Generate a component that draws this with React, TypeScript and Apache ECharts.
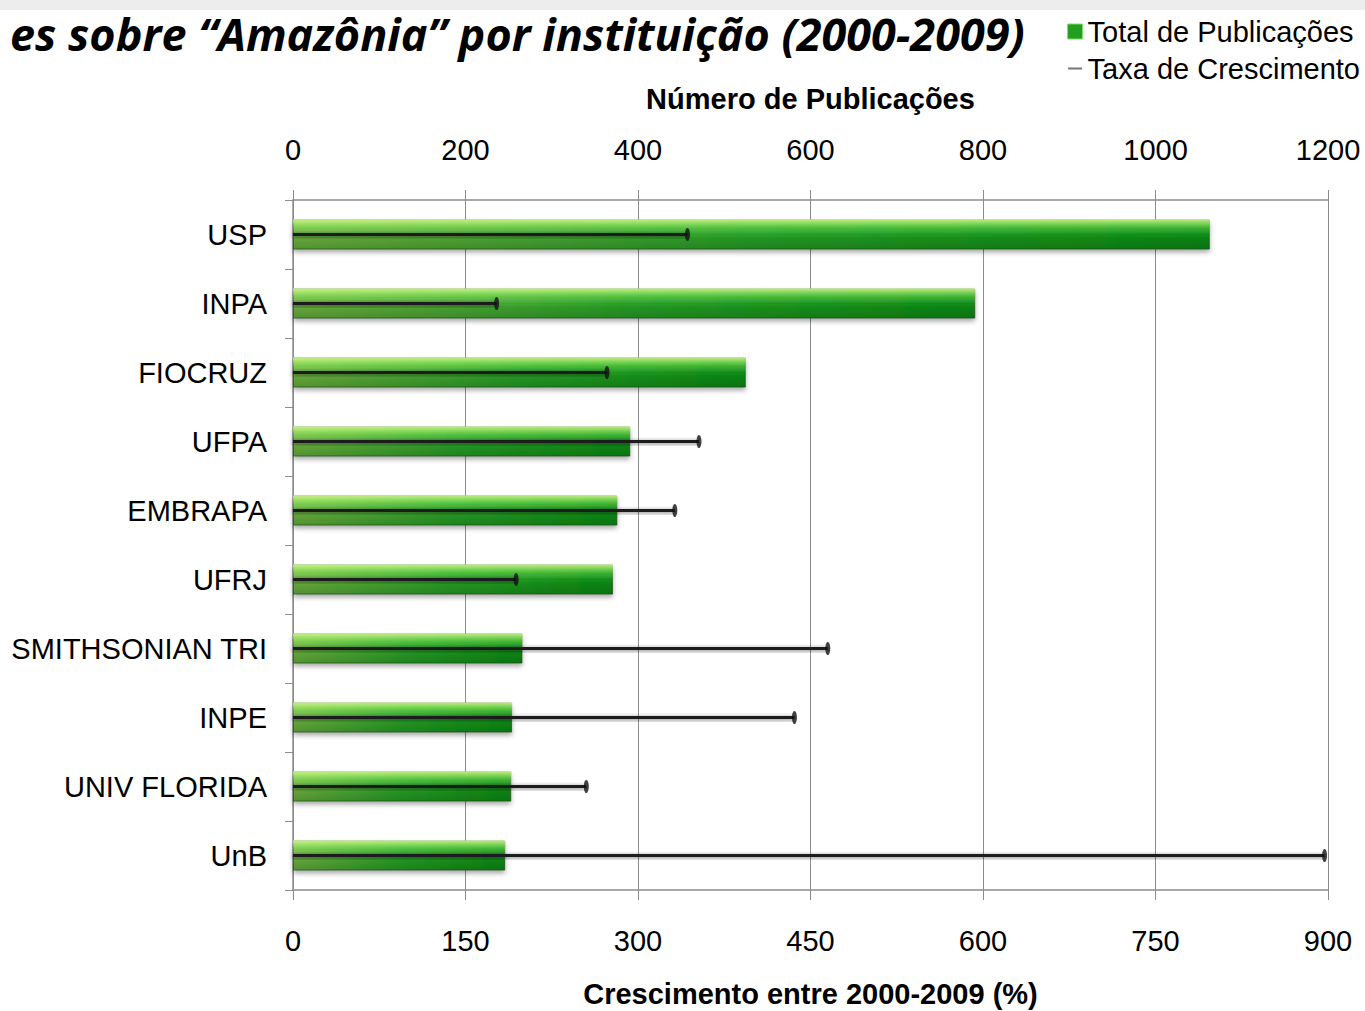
import React, { useEffect, useRef } from "react";
import * as echarts from "echarts";

const institutions = ["USP", "INPA", "FIOCRUZ", "UFPA", "EMBRAPA", "UFRJ", "SMITHSONIAN TRI", "INPE", "UNIV FLORIDA", "UnB"];
const totalPublications = [1063, 791, 525, 391, 376, 371, 266, 254, 253, 246];
const growthRate = [343, 177, 273, 353, 332, 194, 465, 436, 255, 897];
const titleText = "es sobre “Amazônia” por instituição (2000-2009)";
const topAxisName = "Número de Publicações";
const bottomAxisName = "Crescimento entre 2000-2009 (%)";
const legendNames = ["Total de Publicações", "Taxa de Crescimento"];

const FONT = '"Liberation Sans", Arial, sans-serif';

export default function App() {
  const ref = useRef<HTMLDivElement>(null);
  useEffect(() => {
    if (!ref.current) return;
    const chart = echarts.init(ref.current, null, { renderer: "svg" });
    const gridColor = "#8c8c8c";
    chart.setOption({
      animation: false,
      backgroundColor: "#ffffff",
      graphic: [
        { type: "rect", shape: { x: 0, y: 0, width: 1365, height: 10 }, style: { fill: "#ededed" }, z: 0 },
        {
          type: "text",
          left: 10,
          top: 11,
          z: 10,
          style: {
            text: titleText,
            font: 'italic bold 45px "Open Sans", sans-serif',
            fill: "#000",
          },
        },
      ],
      legend: {
        orient: "vertical",
        right: 0,
        top: 12,
        itemGap: 8,
        itemWidth: 15,
        itemHeight: 15,
        textStyle: { fontFamily: FONT, fontSize: 29, color: "#000" },
        data: [
          { name: legendNames[0], icon: "rect", itemStyle: { color: "#1f9e1f", borderColor: "#7fdc6f", borderWidth: 1 } },
          { name: legendNames[1], icon: "path://M0,0L0.01,0L0,0Z M0,6.5H14V8.5H0Z M0,15L0.01,15L0,15Z", itemStyle: { color: "#777" } },
        ],
      },
      grid: { left: 293, right: 37, top: 200, bottom: 121, containLabel: false, outerBoundsMode: "none" },
      xAxis: [
        {
          type: "value",
          position: "top",
          min: 0,
          max: 1200,
          interval: 200,
          name: topAxisName,
          nameLocation: "middle",
          nameGap: 87,
          nameTextStyle: { fontFamily: FONT, fontSize: 29, fontWeight: "bold", color: "#000" },
          axisLabel: { fontFamily: FONT, fontSize: 29, color: "#000", margin: 36, formatter: (v: number) => String(v) },
          axisLine: { show: true, lineStyle: { color: gridColor, width: 1.5 } },
          axisTick: { show: true, length: 10, lineStyle: { color: gridColor } },
          splitLine: { show: true, lineStyle: { color: gridColor, width: 1 } },
        },
        {
          type: "value",
          position: "bottom",
          min: 0,
          max: 900,
          interval: 150,
          name: bottomAxisName,
          nameLocation: "middle",
          nameGap: 89,
          nameTextStyle: { fontFamily: FONT, fontSize: 29, fontWeight: "bold", color: "#000" },
          axisLabel: { fontFamily: FONT, fontSize: 29, color: "#000", margin: 36, formatter: (v: number) => String(v) },
          axisLine: { show: true, lineStyle: { color: gridColor, width: 1.5 } },
          axisTick: { show: true, length: 10, lineStyle: { color: gridColor } },
          splitLine: { show: false },
        },
      ],
      yAxis: [
        {
          type: "category",
          data: institutions,
          inverse: true,
          axisLabel: { fontFamily: FONT, fontSize: 29, color: "#000", margin: 26 },
          axisLine: { show: true, lineStyle: { color: gridColor, width: 1.5 } },
          axisTick: { show: true, length: 8, lineStyle: { color: gridColor } },
        },
        {
          type: "category",
          data: institutions,
          inverse: true,
          show: false,
        },
      ],
      series: [
        {
          name: legendNames[0],
          type: "bar",
          xAxisIndex: 0,
          yAxisIndex: 0,
          barWidth: 30,
          barGap: "-100%",
          data: totalPublications,
          itemStyle: {
            color: new echarts.graphic.LinearGradient(0, 0, 1, 0, [
              { offset: 0, color: "#6cb23f" },
              { offset: 0.5, color: "#26a026" },
              { offset: 1, color: "#0c8c12" },
            ]),
            borderColor: "rgba(30,80,20,0.6)",
            borderWidth: 1,
            shadowColor: "rgba(0,0,0,0.35)",
            shadowBlur: 5,
            shadowOffsetY: 3,
          },
          z: 2,
        },
        {
          name: "gloss",
          type: "bar",
          xAxisIndex: 0,
          yAxisIndex: 0,
          barWidth: 30,
          barGap: "-100%",
          data: totalPublications,
          silent: true,
          itemStyle: {
            color: new echarts.graphic.LinearGradient(0, 0, 0, 1, [
              { offset: 0, color: "rgba(225,255,150,0.85)" },
              { offset: 0.3, color: "rgba(160,255,110,0.3)" },
              { offset: 0.5, color: "rgba(255,255,255,0)" },
              { offset: 0.6, color: "rgba(0,0,0,0.06)" },
              { offset: 1, color: "rgba(0,30,0,0.22)" },
            ]),
          },
          z: 3,
        },
        {
          name: legendNames[1],
          type: "bar",
          xAxisIndex: 1,
          yAxisIndex: 1,
          barWidth: 3,
          data: growthRate,
          itemStyle: {
            color: "#1e1e1e",
            shadowColor: "rgba(0,0,0,0.55)",
            shadowBlur: 4,
            shadowOffsetY: 1,
          },
          z: 4,
        },
        {
          name: "cap",
          type: "scatter",
          xAxisIndex: 1,
          yAxisIndex: 1,
          symbol: "circle",
          symbolSize: [5, 13],
          data: growthRate,
          itemStyle: { color: "#111" },
          silent: true,
          z: 5,
        },
      ],
    });
    return () => chart.dispose();
  }, []);
  return <div ref={ref} style={{ position: "absolute", left: 0, top: 0, width: 1365, height: 1011 }} />;
}
